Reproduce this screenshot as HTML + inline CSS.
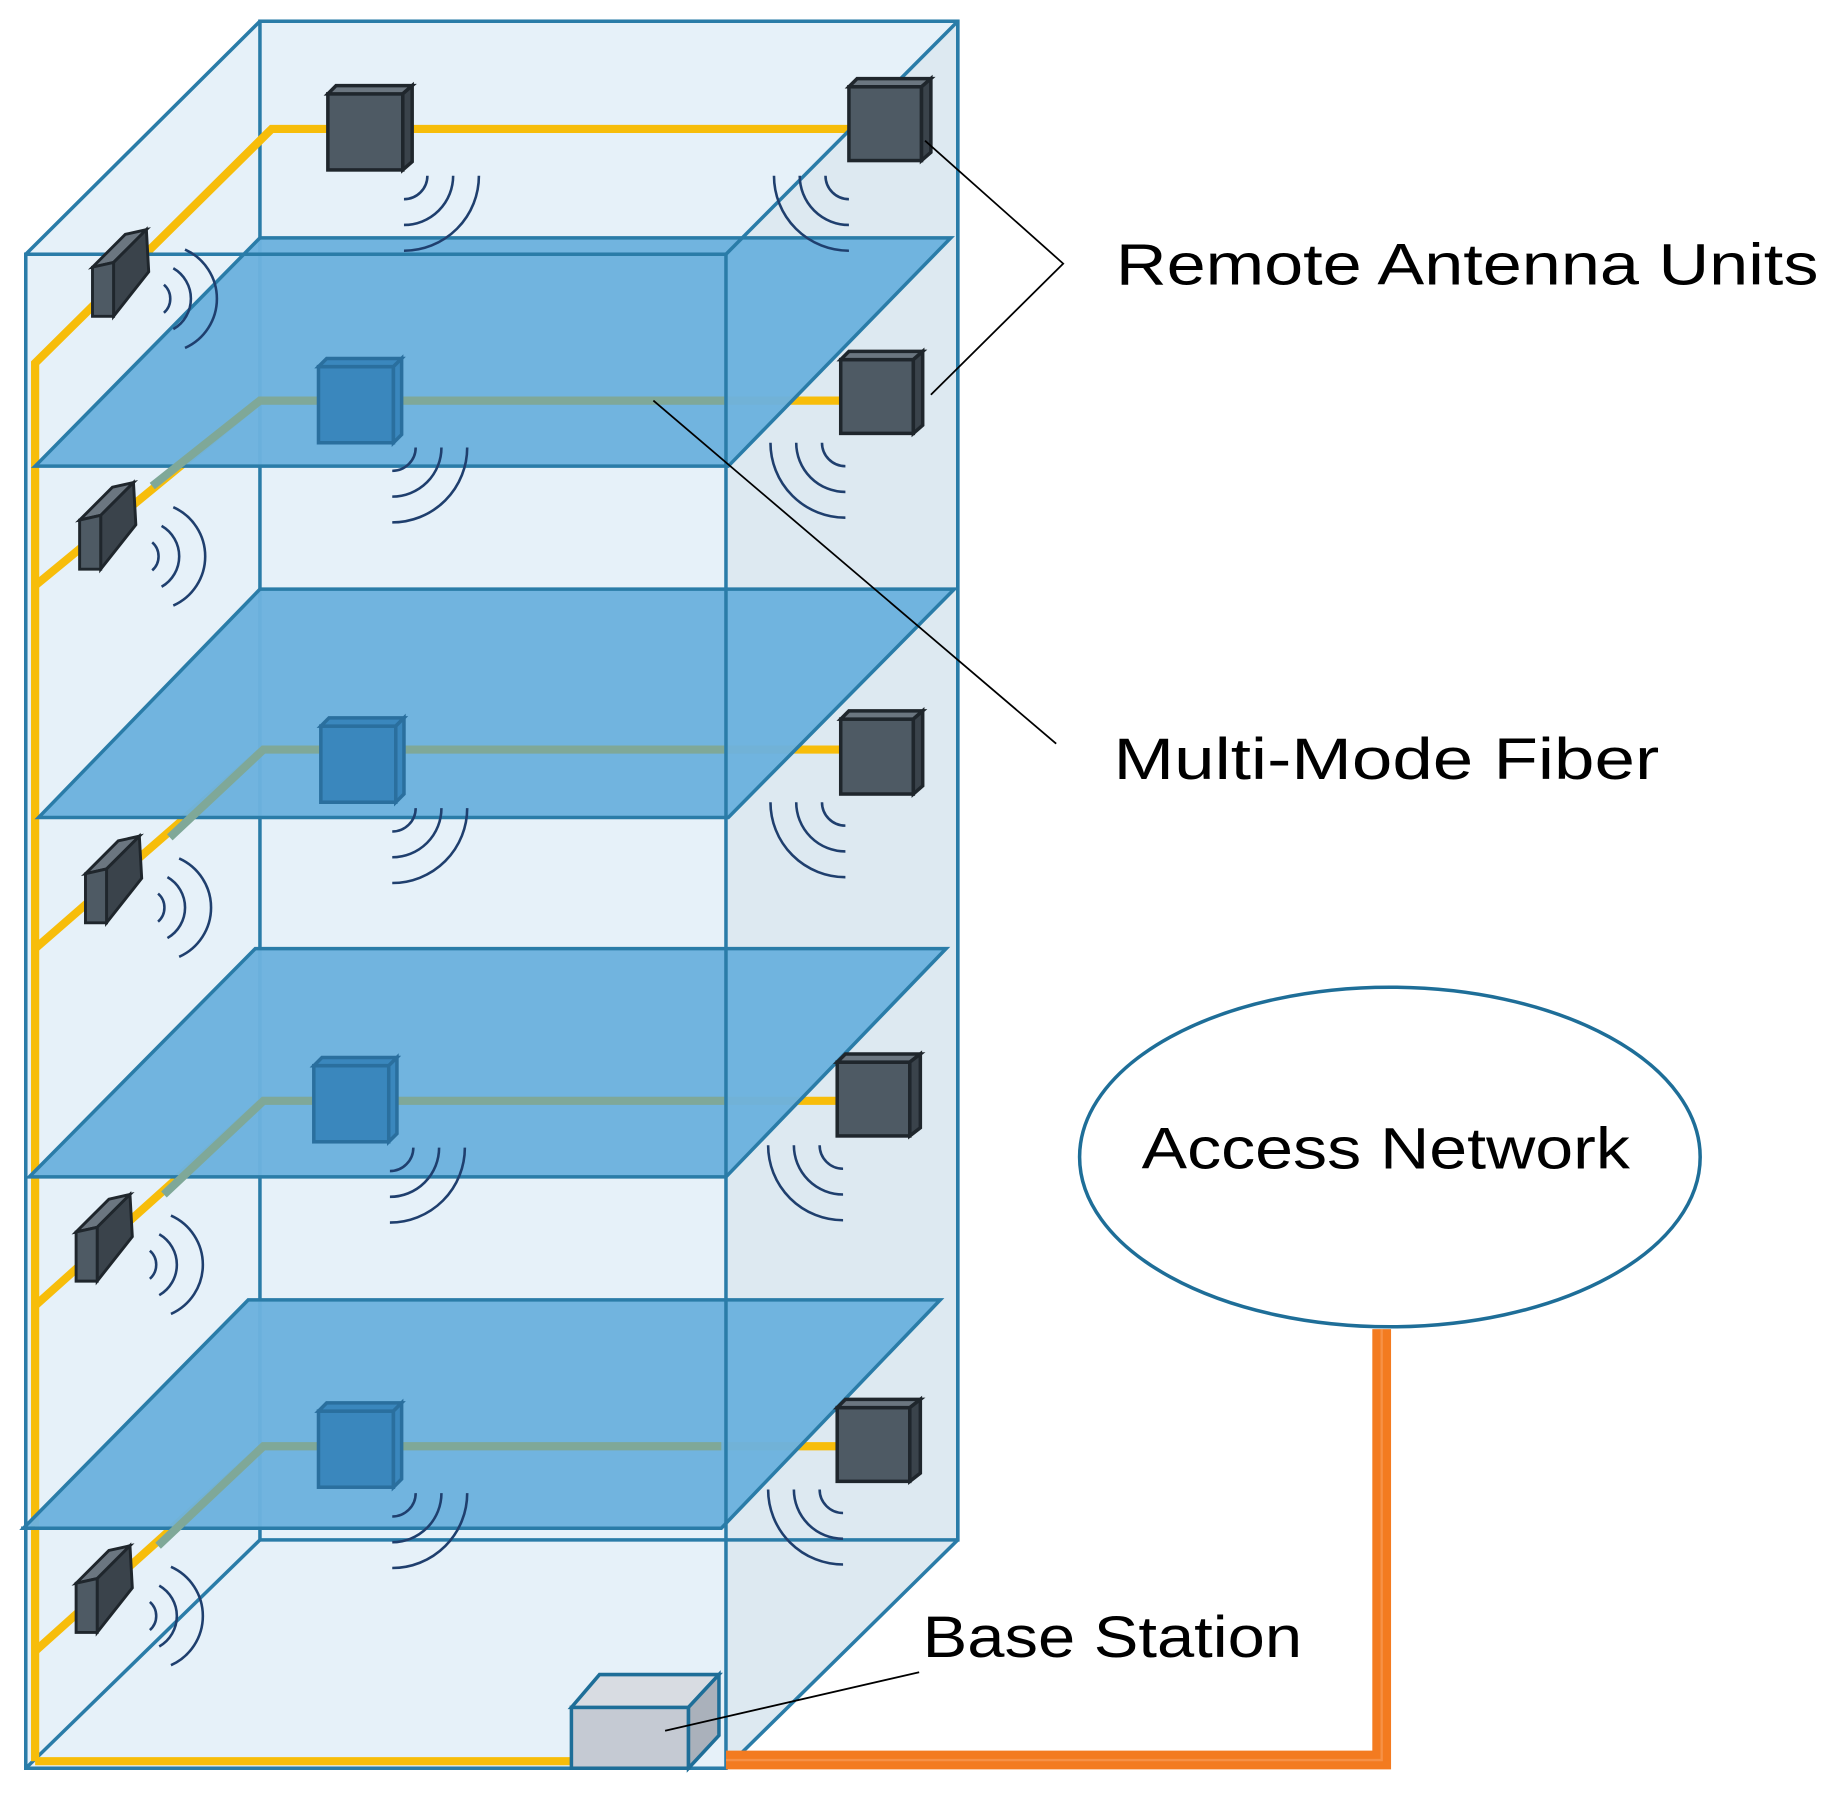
<!DOCTYPE html>
<html><head><meta charset="utf-8"><style>
html,body{margin:0;padding:0;background:#fff}
svg{display:block}
text{font-family:"Liberation Sans","DejaVu Sans",sans-serif;fill:#000}
</style></head><body>
<svg width="1836" height="1800" viewBox="0 0 1568 1537" xmlns="http://www.w3.org/2000/svg">
<defs>
<g id="wq" fill="none" stroke="#1f3f6e" stroke-width="2.2">
<path d="M20,0 A20,20 0 0 1 0,20"/><path d="M42,0 A42,42 0 0 1 0,42"/><path d="M64,0 A64,64 0 0 1 0,64"/>
</g>
<g id="wr" fill="none" stroke="#1f3f6e" stroke-width="2.2">
<path d="M0,-12 A16,16 0 0 1 0,12"/><path d="M8,-26 A30,30 0 0 1 8,26"/><path d="M18,-42 A46,46 0 0 1 18,42"/>
</g>
<g id="lu" stroke="#1f262c" stroke-width="2.5">
<polygon points="0,32 28,4 46,0 18,28" fill="#6b7680"/>
<polygon points="18,28 46,0 48,36 18,74" fill="#3a434b"/>
<polygon points="0,32 18,28 18,74 0,74" fill="#4e5a64"/>
</g>
</defs>
<polygon points="22,217 222,18 818,18 818,1315 620,1510 22,1510" fill="#e6f1f9"/>
<polygon points="620,217 818,18 818,1315 620,1510" fill="#dde9f1"/>
<g stroke="#2a7ca8" stroke-width="3" fill="none">
<rect x="222" y="18" width="596" height="1297"/>
<line x1="22" y1="1510" x2="222" y2="1315"/>
</g>
<g stroke="#f7bd0a" stroke-width="7" fill="none">
<path d="M30,1504 L30,310 L232,110 L730,110"/>
<path d="M30,1504 L490,1504"/>
<path d="M30,500 L222,342 L720,342"/>
<path d="M30,810 L225,640 L720,640"/>
<path d="M30,1115 L225,940 L720,940"/>
<path d="M30,1410 L225,1235 L720,1235"/>
</g>
<g fill="#6cb2de" fill-opacity="0.97" stroke="#2a7ca8" stroke-width="3">
<polygon points="30,398 222,203 812,203 622,398"/>
<polygon points="33,698 222,503 815,503 622,698"/>
<polygon points="25,1005 218,810 808,810 620,1005"/>
<polygon points="20,1305 212,1110 803,1110 616,1305"/>
</g>
<g stroke="#7fa898" stroke-width="7" fill="none">
<path d="M130,415 L222,342 L620,342"/>
<path d="M145,715 L225,640 L620,640"/>
<path d="M140,1020 L225,940 L620,940"/>
<path d="M135,1320 L225,1235 L616,1235"/>
</g>
<g fill="#3a87bd" stroke="#2a6f9e" stroke-width="3">
<rect x="272" y="313" width="64" height="65"/><polygon points="272,313 279,306 343,306 336,313"/><polygon points="336,313 343,306 343,371 336,378"/>
<rect x="274" y="620" width="64" height="65"/><polygon points="274,620 281,613 345,613 338,620"/><polygon points="338,620 345,613 345,678 338,685"/>
<rect x="268" y="910" width="64" height="65"/><polygon points="268,910 275,903 339,903 332,910"/><polygon points="332,910 339,903 339,968 332,975"/>
<rect x="272" y="1205" width="64" height="65"/><polygon points="272,1205 279,1198 343,1198 336,1205"/><polygon points="336,1205 343,1198 343,1263 336,1270"/>
</g>
<g stroke="#2a7ca8" stroke-width="3" fill="none">
<polygon points="22,217 222,18 818,18 818,1315 620,1510 22,1510"/>
<rect x="22" y="217" width="598" height="1293"/>
<line x1="620" y1="217" x2="818" y2="18"/>
<line x1="18" y1="1305" x2="30" y2="1305"/>
</g>
<g fill="#4e5a64" stroke="#1f262c" stroke-width="3">
<rect x="280" y="80" width="64" height="65"/><polygon points="280,80 287,73 352,73 344,80" fill="#6b7680"/><polygon points="344,80 352,73 352,138 344,145" fill="#3a434b"/>
<rect x="725" y="74" width="62" height="63"/><polygon points="725,74 732,67 795,67 787,74" fill="#6b7680"/><polygon points="787,74 795,67 795,130 787,137" fill="#3a434b"/>
<rect x="718" y="307" width="62" height="63"/><polygon points="718,307 725,300 788,300 780,307" fill="#6b7680"/><polygon points="780,307 788,300 788,363 780,370" fill="#3a434b"/>
<rect x="718" y="614" width="62" height="64"/><polygon points="718,614 725,607 788,607 780,614" fill="#6b7680"/><polygon points="780,614 788,607 788,671 780,678" fill="#3a434b"/>
<rect x="715" y="907" width="62" height="63"/><polygon points="715,907 722,900 786,900 777,907" fill="#6b7680"/><polygon points="777,907 786,900 786,963 777,970" fill="#3a434b"/>
<rect x="715" y="1202" width="62" height="63"/><polygon points="715,1202 722,1195 786,1195 777,1202" fill="#6b7680"/><polygon points="777,1202 786,1195 786,1258 777,1265" fill="#3a434b"/>
</g>
<use href="#lu" transform="translate(79,196)"/>
<use href="#lu" transform="translate(68,412)"/>
<use href="#lu" transform="translate(73,714)"/>
<use href="#lu" transform="translate(65,1020)"/>
<use href="#lu" transform="translate(65,1320)"/>
<use href="#wq" transform="translate(345,150)"/>
<use href="#wq" transform="translate(725,150) scale(-1,1)"/>
<use href="#wq" transform="translate(335,382)"/>
<use href="#wq" transform="translate(722,378) scale(-1,1)"/>
<use href="#wq" transform="translate(335,690)"/>
<use href="#wq" transform="translate(722,685) scale(-1,1)"/>
<use href="#wq" transform="translate(333,980)"/>
<use href="#wq" transform="translate(720,978) scale(-1,1)"/>
<use href="#wq" transform="translate(335,1275)"/>
<use href="#wq" transform="translate(720,1272) scale(-1,1)"/>
<use href="#wr" transform="translate(140,255)"/>
<use href="#wr" transform="translate(130,475)"/>
<use href="#wr" transform="translate(135,775)"/>
<use href="#wr" transform="translate(128,1080)"/>
<use href="#wr" transform="translate(128,1380)"/>
<path d="M1180,1135 L1180,1503 L620,1503" stroke="#f37b20" stroke-width="16" fill="none"/>
<path d="M1180,1135 L1180,1503 L620,1503" stroke="#f9a060" stroke-width="2" fill="none" opacity="0.6"/>
<g stroke="#1e6e98" stroke-width="3">
<rect x="488" y="1458" width="100" height="52" fill="#c5cad3"/>
<polygon points="488,1458 512,1430 614,1430 588,1458" fill="#d8dce2"/>
<polygon points="588,1458 614,1430 614,1482 588,1510" fill="#aab1bb"/>
</g>
<ellipse cx="1187" cy="988" rx="265" ry="145" fill="#fff" stroke="#1e6e98" stroke-width="3"/>
<g stroke="#000" stroke-width="1.5" fill="none">
<polyline points="790,120 908,225 795,337"/>
<line x1="558" y1="342" x2="902" y2="635"/>
<line x1="785" y1="1428" x2="568" y2="1478"/>
</g>
<text x="953" y="243" font-size="50" textLength="600" lengthAdjust="spacingAndGlyphs">Remote Antenna Units</text>
<text x="951" y="665" font-size="50" textLength="466" lengthAdjust="spacingAndGlyphs">Multi-Mode Fiber</text>
<text x="975" y="998" font-size="50" textLength="417" lengthAdjust="spacingAndGlyphs">Access Network</text>
<text x="788" y="1415" font-size="50" textLength="324" lengthAdjust="spacingAndGlyphs">Base Station</text>
</svg>
</body></html>
